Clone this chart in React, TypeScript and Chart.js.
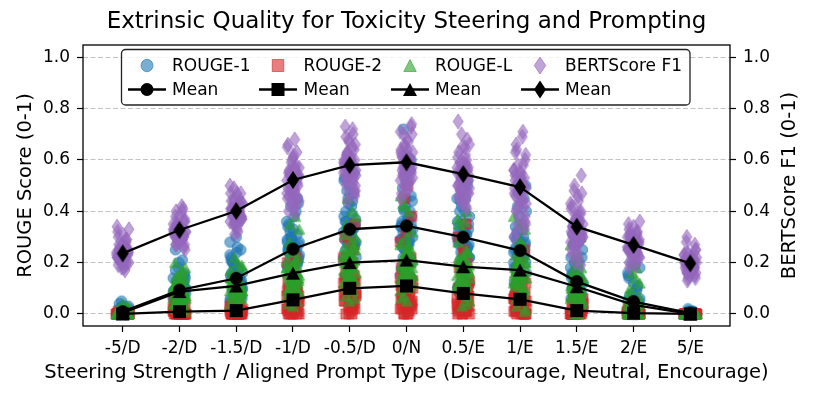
import React, { useEffect, useRef } from "react";
import { Chart, registerables } from "chart.js";
Chart.register(...registerables);

const CATEGORIES = ["-5/D", "-2/D", "-1.5/D", "-1/D", "-0.5/D", "0/N", "0.5/E", "1/E", "1.5/E", "2/E", "5/E"];
const Y_TICKS = [0, 0.2, 0.4, 0.6, 0.8, 1.0];
const TITLE = "Extrinsic Quality for Toxicity Steering and Prompting";
const X_LABEL = "Steering Strength / Aligned Prompt Type (Discourage, Neutral, Encourage)";
const Y_LABEL_LEFT = "ROUGE Score (0-1)";
const Y_LABEL_RIGHT = "BERTScore F1 (0-1)";

const ROUGE1 = [
  [0, 0, 0, 0, 0, 0.01, 0, 0.02, 0, 0.03, 0, 0.01, 0.04, 0, 0.05, 0, 0, 0.01, 0, 0, 0.02, 0, 0.03, 0, 0.01, 0, 0, 0.02, 0, 0.01, 0, 0, 0, 0, 0.01, 0, 0, 0.02, 0, 0, 0.01, 0, 0.03, 0, 0, 0.01, 0, 0.02],
  [0.02, 0.05, 0.08, 0.1, 0.12, 0.06, 0.15, 0.04, 0.09, 0.18, 0.11, 0.07, 0.08, 0.03, 0.1, 0.25, 0.04, 0.07, 0.09, 0.11, 0.13, 0.16, 0.2, 0.06, 0.08, 0.1, 0.12, 0.05, 0.14, 0.09, 0.02, 0.03, 0.03, 0.06, 0.08, 0.1, 0.12, 0.14, 0.17, 0.21, 0.07, 0.09, 0.11, 0.05, 0.13, 0.08, 0.04, 0.06],
  [0.05, 0.1, 0.14, 0.18, 0.08, 0.12, 0.22, 0.26, 0.15, 0.09, 0.2, 0.13, 0.3, 0.06, 0.11, 0.04, 0.07, 0.1, 0.12, 0.14, 0.16, 0.19, 0.24, 0.28, 0.13, 0.15, 0.17, 0.09, 0.11, 0.21, 0.08, 0.08, 0.06, 0.09, 0.11, 0.13, 0.15, 0.17, 0.2, 0.25, 0.12, 0.14, 0.16, 0.1, 0.18, 0.07, 0.23, 0.12],
  [0.1, 0.18, 0.25, 0.3, 0.22, 0.35, 0.4, 0.15, 0.28, 0.2, 0.32, 0.45, 0.26, 0.12, 0.24, 0.23, 0.06, 0.14, 0.19, 0.21, 0.24, 0.27, 0.29, 0.31, 0.34, 0.38, 0.42, 0.27, 0.25, 0.22, 0.18, 0.29, 0.08, 0.16, 0.2, 0.23, 0.25, 0.26, 0.28, 0.3, 0.33, 0.36, 0.43, 0.21, 0.24, 0.27, 0.19, 0.25],
  [0.15, 0.25, 0.3, 0.38, 0.42, 0.48, 0.55, 0.2, 0.33, 0.36, 0.28, 0.45, 0.32, 0.22, 0.27, 0.32, 0.12, 0.2, 0.26, 0.29, 0.31, 0.34, 0.37, 0.4, 0.44, 0.5, 0.52, 0.35, 0.3, 0.27, 0.33, 0.29, 0.14, 0.22, 0.27, 0.3, 0.32, 0.34, 0.36, 0.39, 0.43, 0.47, 0.53, 0.31, 0.28, 0.35, 0.25, 0.33],
  [0.72, 0.6, 0.45, 0.4, 0.35, 0.3, 0.25, 0.2, 0.15, 0.38, 0.32, 0.28, 0.42, 0.22, 0.18, 0.27, 0.12, 0.2, 0.26, 0.29, 0.31, 0.34, 0.37, 0.41, 0.46, 0.52, 0.56, 0.36, 0.33, 0.3, 0.35, 0.29, 0.14, 0.22, 0.27, 0.3, 0.32, 0.34, 0.37, 0.4, 0.44, 0.49, 0.58, 0.33, 0.29, 0.36, 0.26, 0.35],
  [0.12, 0.2, 0.25, 0.3, 0.35, 0.4, 0.45, 0.55, 0.5, 0.28, 0.32, 0.18, 0.22, 0.27, 0.24, 0.17, 0.1, 0.16, 0.21, 0.26, 0.29, 0.31, 0.34, 0.38, 0.42, 0.48, 0.45, 0.33, 0.3, 0.27, 0.36, 0.26, 0.11, 0.19, 0.24, 0.27, 0.29, 0.31, 0.33, 0.36, 0.4, 0.44, 0.52, 0.28, 0.25, 0.32, 0.22, 0.3],
  [0.08, 0.15, 0.2, 0.25, 0.3, 0.35, 0.42, 0.5, 0.18, 0.22, 0.28, 0.12, 0.26, 0.32, 0.23, 0.09, 0.06, 0.11, 0.16, 0.19, 0.21, 0.24, 0.27, 0.29, 0.33, 0.38, 0.45, 0.25, 0.22, 0.3, 0.2, 0.26, 0.07, 0.13, 0.18, 0.21, 0.23, 0.25, 0.27, 0.3, 0.34, 0.4, 0.47, 0.24, 0.2, 0.28, 0.16, 0.22],
  [0, 0.03, 0.06, 0.1, 0.14, 0.18, 0.22, 0.28, 0.35, 0.08, 0.12, 0.05, 0.16, 0.02, 0.11, 0.12, 0.01, 0.04, 0.07, 0.09, 0.11, 0.13, 0.15, 0.17, 0.2, 0.25, 0.31, 0.1, 0.14, 0.06, 0.12, 0.08, 0.02, 0.05, 0.08, 0.1, 0.12, 0.13, 0.15, 0.18, 0.22, 0.27, 0.2, 0.11, 0.09, 0.14, 0.06, 0.13],
  [0, 0, 0, 0.02, 0.04, 0.06, 0.1, 0.14, 0.18, 0.2, 0, 0.01, 0.03, 0, 0, 0, 0, 0.01, 0.02, 0.03, 0.05, 0.07, 0.09, 0.12, 0.16, 0, 0.01, 0, 0.04, 0.02, 0, 0.06, 0, 0, 0.01, 0.02, 0.04, 0.05, 0.08, 0.11, 0.15, 0.19, 0, 0.01, 0.03, 0, 0.02, 0.05],
  [0, 0, 0, 0, 0.01, 0, 0, 0, 0, 0.01, 0, 0, 0, 0, 0.02, 0, 0, 0, 0.01, 0, 0, 0, 0, 0, 0.01, 0, 0, 0, 0, 0, 0, 0, 0, 0, 0, 0, 0, 0.01, 0, 0, 0, 0, 0, 0.01, 0, 0, 0, 0],
];

const ROUGE2 = [
  [0, 0, 0, 0, 0, 0, 0, 0, 0, 0, 0, 0, 0, 0, 0, 0, 0, 0, 0, 0, 0, 0, 0.01, 0, 0, 0, 0, 0, 0, 0, 0, 0, 0, 0, 0, 0, 0, 0, 0, 0, 0, 0, 0, 0, 0, 0, 0, 0],
  [0, 0, 0, 0, 0.01, 0, 0.02, 0, 0.03, 0, 0, 0.05, 0, 0.01, 0, 0.02, 0, 0.01, 0, 0.02, 0, 0.01, 0, 0.03, 0, 0, 0.01, 0, 0.02, 0, 0.04, 0, 0, 0, 0.01, 0, 0.02, 0, 0.01, 0, 0.03, 0, 0.01, 0, 0.02, 0, 0.03, 0],
  [0, 0, 0.01, 0, 0.02, 0, 0.03, 0.05, 0, 0.01, 0, 0.04, 0, 0.02, 0, 0.03, 0.01, 0, 0.02, 0, 0.03, 0.01, 0, 0.02, 0.04, 0, 0.01, 0, 0.02, 0.03, 0, 0.01, 0, 0.01, 0, 0.02, 0.01, 0.03, 0, 0.02, 0.01, 0.04, 0, 0.02, 0.01, 0, 0.03, 0.01],
  [0, 0.02, 0.04, 0.06, 0.08, 0.12, 0.22, 0.1, 0, 0.03, 0.05, 0.07, 0.01, 0, 0.04, 0.06, 0, 0.01, 0.03, 0.05, 0.07, 0.09, 0.11, 0.15, 0.2, 0.02, 0.04, 0.06, 0.08, 0.03, 0, 0.05, 0, 0.01, 0.02, 0.04, 0.05, 0.06, 0.08, 0.1, 0.13, 0.18, 0.03, 0.05, 0.07, 0.02, 0.04, 0.09],
  [0, 0.02, 0.05, 0.08, 0.12, 0.12, 0.22, 0.35, 0.2, 0.04, 0.1, 0.06, 0.14, 0.01, 0.09, 0.08, 0, 0.03, 0.06, 0.09, 0.11, 0.13, 0.15, 0.18, 0.25, 0.3, 0.07, 0.1, 0.04, 0.12, 0.02, 0.08, 0, 0.02, 0.04, 0.07, 0.09, 0.11, 0.13, 0.16, 0.2, 0.28, 0.05, 0.08, 0.1, 0.12, 0.03, 0.14],
  [0, 0.02, 0.04, 0.07, 0.1, 0.09, 0.12, 0.18, 0.5, 0.45, 0.05, 0.08, 0.01, 0.03, 0.06, 0, 0, 0.03, 0.06, 0.09, 0.11, 0.13, 0.16, 0.2, 0.28, 0.38, 0.07, 0.1, 0.04, 0.12, 0.02, 0.05, 0, 0.02, 0.04, 0.07, 0.09, 0.11, 0.13, 0.16, 0.22, 0.32, 0.05, 0.08, 0.1, 0.12, 0.03, 0.14],
  [0, 0.01, 0.03, 0.05, 0.08, 0.12, 0.18, 0.35, 0.25, 0.02, 0.06, 0.04, 0.1, 0, 0.03, 0.01, 0, 0.02, 0.04, 0.06, 0.07, 0.09, 0.11, 0.14, 0.2, 0.3, 0.05, 0.08, 0.03, 0.1, 0.01, 0.06, 0, 0.01, 0.03, 0.05, 0.06, 0.08, 0.1, 0.13, 0.17, 0.24, 0.04, 0.07, 0.09, 0.02, 0.05, 0.11],
  [0, 0.01, 0.02, 0.04, 0.06, 0.09, 0.14, 0.25, 0.2, 0, 0.03, 0.05, 0.02, 0, 0.01, 0, 0, 0.01, 0.03, 0.05, 0.07, 0.08, 0.1, 0.12, 0.1, 0.14, 0.04, 0.06, 0.02, 0.09, 0, 0.03, 0, 0.01, 0.02, 0.03, 0.05, 0.06, 0.08, 0.1, 0.13, 0.18, 0.04, 0.07, 0.02, 0.09, 0, 0.03],
  [0, 0, 0.01, 0, 0.02, 0.04, 0.06, 0, 0.01, 0, 0.03, 0, 0.02, 0, 0.01, 0, 0.01, 0, 0.02, 0, 0.03, 0.01, 0, 0.02, 0.05, 0, 0.01, 0, 0.02, 0.04, 0, 0.01, 0, 0.01, 0, 0.02, 0.01, 0.03, 0, 0.02, 0.01, 0.04, 0, 0.01, 0.02, 0, 0.03, 0],
  [0, 0, 0, 0, 0.01, 0, 0, 0, 0, 0, 0.02, 0, 0, 0, 0.01, 0, 0, 0, 0.01, 0, 0, 0, 0, 0.01, 0, 0, 0, 0, 0.02, 0, 0, 0, 0, 0, 0, 0.01, 0, 0, 0, 0, 0.01, 0, 0, 0, 0, 0.01, 0, 0],
  [0, 0, 0, 0, 0, 0, 0, 0, 0, 0, 0, 0, 0, 0, 0, 0, 0, 0, 0, 0, 0, 0, 0, 0, 0, 0, 0, 0, 0, 0, 0, 0, 0, 0, 0, 0, 0, 0, 0, 0, 0, 0, 0, 0, 0, 0, 0, 0],
];

const ROUGEL = [
  [0, 0, 0, 0.01, 0, 0.02, 0, 0, 0.04, 0, 0, 0.01, 0, 0, 0, 0, 0, 0.01, 0, 0, 0.02, 0, 0.03, 0, 0, 0.01, 0, 0, 0, 0.01, 0, 0, 0, 0, 0.01, 0, 0, 0, 0.02, 0, 0, 0.01, 0, 0.03, 0, 0, 0, 0.01],
  [0.01, 0.04, 0.06, 0.08, 0.1, 0.12, 0.05, 0.14, 0.09, 0.16, 0.2, 0.07, 0.03, 0.11, 0.06, 0.04, 0.02, 0.05, 0.07, 0.09, 0.11, 0.13, 0.15, 0.18, 0.08, 0.06, 0.1, 0.04, 0.12, 0.07, 0.09, 0.03, 0.02, 0.04, 0.06, 0.08, 0.09, 0.1, 0.12, 0.14, 0.17, 0.05, 0.07, 0.11, 0.03, 0.13, 0.08, 0.1],
  [0.03, 0.06, 0.08, 0.1, 0.12, 0.14, 0.18, 0.22, 0.05, 0.09, 0.11, 0.15, 0.07, 0.13, 0.1, 0.12, 0.04, 0.07, 0.09, 0.11, 0.13, 0.15, 0.17, 0.2, 0.1, 0.08, 0.12, 0.06, 0.14, 0.09, 0.11, 0.1, 0.04, 0.06, 0.08, 0.09, 0.1, 0.11, 0.12, 0.13, 0.15, 0.19, 0.07, 0.1, 0.12, 0.14, 0.11, 0.14],
  [0.04, 0.08, 0.12, 0.15, 0.18, 0.22, 0.28, 0.38, 0.1, 0.14, 0.16, 0.2, 0.06, 0.13, 0.17, 0.13, 0.03, 0.07, 0.1, 0.13, 0.16, 0.19, 0.21, 0.25, 0.33, 0.12, 0.15, 0.18, 0.09, 0.14, 0.17, 0.24, 0.05, 0.09, 0.11, 0.13, 0.14, 0.15, 0.16, 0.18, 0.21, 0.26, 0.35, 0.12, 0.17, 0.19, 0.1, 0.15],
  [0.06, 0.1, 0.14, 0.18, 0.22, 0.26, 0.28, 0.45, 0.3, 0.16, 0.2, 0.24, 0.12, 0.19, 0.17, 0.21, 0.05, 0.09, 0.13, 0.16, 0.19, 0.21, 0.23, 0.27, 0.35, 0.4, 0.15, 0.18, 0.2, 0.22, 0.14, 0.25, 0.07, 0.11, 0.15, 0.17, 0.19, 0.2, 0.21, 0.23, 0.26, 0.31, 0.38, 0.16, 0.18, 0.22, 0.13, 0.24],
  [0.06, 0.1, 0.14, 0.18, 0.22, 0.26, 0.3, 0.46, 0.4, 0.16, 0.2, 0.24, 0.12, 0.19, 0.15, 0.18, 0.05, 0.09, 0.13, 0.16, 0.19, 0.21, 0.24, 0.28, 0.35, 0.42, 0.15, 0.18, 0.2, 0.23, 0.14, 0.27, 0.07, 0.11, 0.15, 0.17, 0.19, 0.21, 0.22, 0.24, 0.27, 0.32, 0.43, 0.16, 0.18, 0.23, 0.13, 0.25],
  [0.04, 0.08, 0.12, 0.16, 0.2, 0.24, 0.3, 0.4, 0.35, 0.14, 0.18, 0.22, 0.1, 0.17, 0.13, 0.11, 0.03, 0.07, 0.11, 0.14, 0.17, 0.19, 0.21, 0.25, 0.32, 0.37, 0.13, 0.16, 0.18, 0.2, 0.12, 0.22, 0.05, 0.09, 0.13, 0.15, 0.17, 0.18, 0.19, 0.21, 0.24, 0.28, 0.36, 0.14, 0.16, 0.2, 0.11, 0.22],
  [0.01, 0.05, 0.09, 0.13, 0.17, 0.21, 0.27, 0.38, 0.33, 0.12, 0.16, 0.2, 0.08, 0.18, 0.15, 0.21, 0.02, 0.06, 0.1, 0.13, 0.15, 0.17, 0.19, 0.23, 0.29, 0.36, 0.11, 0.14, 0.16, 0.18, 0.12, 0.2, 0.03, 0.07, 0.11, 0.14, 0.16, 0.17, 0.18, 0.2, 0.23, 0.27, 0.35, 0.13, 0.15, 0.19, 0.1, 0.21],
  [0, 0.03, 0.06, 0.09, 0.12, 0.15, 0.2, 0.3, 0.16, 0.08, 0.11, 0.04, 0.13, 0.07, 0.1, 0.07, 0, 0.02, 0.05, 0.08, 0.1, 0.12, 0.14, 0.17, 0.22, 0.27, 0.06, 0.09, 0.11, 0.13, 0.04, 0.1, 0.01, 0.03, 0.05, 0.07, 0.09, 0.1, 0.11, 0.12, 0.14, 0.18, 0.24, 0.08, 0.1, 0.13, 0.06, 0.15],
  [0, 0, 0, 0.01, 0.03, 0.05, 0.04, 0.06, 0.18, 0.2, 0, 0, 0.02, 0, 0.01, 0, 0, 0, 0.01, 0.02, 0.04, 0.07, 0.1, 0.14, 0, 0.01, 0.03, 0, 0.05, 0, 0.02, 0, 0, 0, 0, 0.01, 0.02, 0.03, 0.05, 0.08, 0.12, 0.16, 0, 0.01, 0.04, 0, 0.02, 0.01],
  [0, 0, 0, 0, 0, 0, 0, 0, 0, 0, 0, 0, 0, 0, 0, 0, 0, 0, 0, 0, 0, 0, 0, 0, 0, 0, 0, 0, 0, 0, 0, 0, 0, 0, 0, 0, 0, 0, 0, 0, 0, 0, 0, 0, 0, 0, 0, 0],
];

const BERT = [
  [0.19, 0.21, 0.22, 0.23, 0.24, 0.25, 0.26, 0.28, 0.3, 0.33, 0.2, 0.22, 0.24, 0.23, 0.21, 0.17, 0.18, 0.2, 0.22, 0.23, 0.24, 0.25, 0.27, 0.29, 0.31, 0.34, 0.21, 0.22, 0.24, 0.2, 0.26, 0.19, 0.2, 0.21, 0.22, 0.23, 0.24, 0.25, 0.26, 0.27, 0.29, 0.32, 0.18, 0.22, 0.24, 0.25, 0.21, 0.23],
  [0.26, 0.28, 0.3, 0.31, 0.32, 0.33, 0.34, 0.35, 0.37, 0.4, 0.42, 0.29, 0.31, 0.33, 0.34, 0.28, 0.25, 0.27, 0.29, 0.3, 0.32, 0.33, 0.35, 0.36, 0.38, 0.41, 0.3, 0.32, 0.34, 0.31, 0.33, 0.27, 0.27, 0.29, 0.3, 0.31, 0.32, 0.33, 0.34, 0.36, 0.38, 0.4, 0.28, 0.31, 0.33, 0.35, 0.3, 0.32],
  [0.31, 0.34, 0.36, 0.38, 0.39, 0.4, 0.41, 0.42, 0.44, 0.46, 0.49, 0.37, 0.4, 0.43, 0.35, 0.47, 0.32, 0.35, 0.37, 0.39, 0.4, 0.41, 0.43, 0.45, 0.47, 0.5, 0.38, 0.4, 0.42, 0.36, 0.44, 0.39, 0.33, 0.35, 0.37, 0.38, 0.39, 0.4, 0.41, 0.42, 0.44, 0.47, 0.36, 0.39, 0.41, 0.43, 0.38, 0.42],
  [0.39, 0.43, 0.46, 0.49, 0.51, 0.52, 0.54, 0.56, 0.58, 0.61, 0.65, 0.68, 0.48, 0.53, 0.5, 0.45, 0.4, 0.44, 0.47, 0.5, 0.52, 0.53, 0.55, 0.57, 0.6, 0.63, 0.66, 0.49, 0.51, 0.54, 0.46, 0.42, 0.41, 0.45, 0.48, 0.5, 0.51, 0.52, 0.53, 0.55, 0.57, 0.59, 0.62, 0.47, 0.5, 0.54, 0.56, 0.44],
  [0.44, 0.48, 0.52, 0.55, 0.57, 0.58, 0.6, 0.62, 0.64, 0.67, 0.7, 0.73, 0.54, 0.59, 0.56, 0.55, 0.46, 0.5, 0.53, 0.56, 0.58, 0.59, 0.61, 0.63, 0.66, 0.69, 0.72, 0.57, 0.6, 0.55, 0.52, 0.48, 0.47, 0.51, 0.54, 0.56, 0.57, 0.58, 0.59, 0.6, 0.62, 0.65, 0.68, 0.53, 0.56, 0.6, 0.63, 0.5],
  [0.45, 0.49, 0.53, 0.56, 0.58, 0.59, 0.61, 0.63, 0.65, 0.68, 0.71, 0.74, 0.55, 0.6, 0.57, 0.52, 0.47, 0.51, 0.54, 0.57, 0.59, 0.6, 0.62, 0.64, 0.67, 0.7, 0.73, 0.58, 0.61, 0.56, 0.53, 0.5, 0.48, 0.52, 0.55, 0.57, 0.58, 0.59, 0.6, 0.62, 0.64, 0.66, 0.7, 0.54, 0.57, 0.61, 0.63, 0.51],
  [0.41, 0.45, 0.49, 0.52, 0.54, 0.55, 0.57, 0.59, 0.62, 0.65, 0.68, 0.75, 0.5, 0.53, 0.47, 0.51, 0.42, 0.46, 0.5, 0.53, 0.55, 0.56, 0.58, 0.6, 0.63, 0.66, 0.7, 0.54, 0.57, 0.52, 0.48, 0.44, 0.43, 0.47, 0.5, 0.52, 0.53, 0.54, 0.55, 0.57, 0.59, 0.61, 0.65, 0.49, 0.52, 0.56, 0.58, 0.46],
  [0.3, 0.36, 0.41, 0.45, 0.48, 0.5, 0.52, 0.55, 0.58, 0.62, 0.66, 0.71, 0.44, 0.47, 0.53, 0.32, 0.33, 0.38, 0.42, 0.46, 0.49, 0.51, 0.53, 0.56, 0.6, 0.64, 0.69, 0.47, 0.5, 0.54, 0.44, 0.35, 0.35, 0.4, 0.44, 0.47, 0.49, 0.5, 0.51, 0.53, 0.55, 0.58, 0.63, 0.43, 0.48, 0.52, 0.56, 0.38],
  [0.19, 0.23, 0.27, 0.3, 0.32, 0.34, 0.36, 0.38, 0.41, 0.44, 0.48, 0.54, 0.29, 0.33, 0.31, 0.3, 0.2, 0.24, 0.28, 0.31, 0.33, 0.35, 0.37, 0.39, 0.42, 0.46, 0.5, 0.3, 0.34, 0.36, 0.27, 0.32, 0.22, 0.26, 0.29, 0.31, 0.33, 0.34, 0.35, 0.37, 0.39, 0.43, 0.47, 0.28, 0.32, 0.36, 0.4, 0.25],
  [0.18, 0.21, 0.23, 0.25, 0.26, 0.27, 0.28, 0.29, 0.31, 0.33, 0.36, 0.24, 0.27, 0.3, 0.22, 0.3, 0.19, 0.22, 0.24, 0.26, 0.27, 0.28, 0.29, 0.3, 0.32, 0.34, 0.25, 0.27, 0.29, 0.23, 0.26, 0.28, 0.2, 0.22, 0.24, 0.25, 0.26, 0.27, 0.28, 0.29, 0.3, 0.32, 0.35, 0.23, 0.26, 0.28, 0.31, 0.25],
  [0.13, 0.15, 0.17, 0.18, 0.19, 0.2, 0.21, 0.22, 0.23, 0.25, 0.3, 0.16, 0.19, 0.21, 0.18, 0.18, 0.14, 0.16, 0.17, 0.19, 0.2, 0.21, 0.22, 0.24, 0.27, 0.15, 0.18, 0.2, 0.22, 0.19, 0.17, 0.23, 0.14, 0.16, 0.18, 0.19, 0.2, 0.21, 0.22, 0.23, 0.25, 0.28, 0.17, 0.19, 0.2, 0.21, 0.16, 0.18],
];

const MEAN_R1 = [0.009, 0.093, 0.139, 0.253, 0.33, 0.343, 0.299, 0.247, 0.126, 0.048, 0.003];
const MEAN_R2 = [0.0, 0.009, 0.013, 0.055, 0.1, 0.109, 0.08, 0.057, 0.013, 0.003, 0.0];
const MEAN_RL = [0.005, 0.087, 0.109, 0.159, 0.2, 0.21, 0.184, 0.171, 0.106, 0.035, 0.0];
const MEAN_BERT = [0.236, 0.327, 0.401, 0.522, 0.58, 0.591, 0.545, 0.494, 0.34, 0.269, 0.197];

// horizontal strip jitter (layout constant, in category units)
const JITTER = [-0.1, 0.03, -0.05, 0.08, -0.01, 0.06, -0.08, 0.11, -0.03, 0.01, -0.11, 0.09, -0.06, 0.04, -0.02, 0.07, -0.09, 0.02, -0.04, 0.1, -0.07, 0.05, 0.0];

const FONT = "'DejaVu Sans', 'Liberation Sans', sans-serif";
const C_BLUE = "rgba(31,119,180,0.6)";
const C_RED = "rgba(214,39,40,0.6)";
const C_GREEN = "rgba(44,160,44,0.6)";
const C_PURPLE = "rgba(148,103,189,0.6)";

type Shape = "circle" | "square" | "triangle" | "diamond";

function shapePath(ctx: CanvasRenderingContext2D, shape: Shape, cx: number, cy: number, w: number, h: number) {
  ctx.beginPath();
  if (shape === "circle") {
    ctx.ellipse(cx, cy, w / 2, h / 2, 0, 0, Math.PI * 2);
  } else if (shape === "square") {
    ctx.rect(cx - w / 2, cy - h / 2, w, h);
  } else if (shape === "triangle") {
    ctx.moveTo(cx, cy - h / 2);
    ctx.lineTo(cx + w / 2, cy + h / 2);
    ctx.lineTo(cx - w / 2, cy + h / 2);
    ctx.closePath();
  } else {
    ctx.moveTo(cx, cy - h / 2);
    ctx.lineTo(cx + w / 2, cy);
    ctx.lineTo(cx, cy + h / 2);
    ctx.lineTo(cx - w / 2, cy);
    ctx.closePath();
  }
}

function drawMarker(ctx: CanvasRenderingContext2D, shape: Shape, cx: number, cy: number, w: number, h: number, fill: string, lw: number) {
  shapePath(ctx, shape, cx, cy, w, h);
  ctx.fillStyle = fill;
  ctx.fill();
  if (lw > 0) {
    ctx.lineWidth = lw;
    ctx.strokeStyle = fill;
    ctx.stroke();
  }
}

function markerCanvas(shape: Shape, w: number, h: number, fill: string, lw: number) {
  const pad = 2;
  const c = document.createElement("canvas");
  c.width = Math.ceil(w + 2 * pad);
  c.height = Math.ceil(h + 2 * pad);
  const ctx = c.getContext("2d")!;
  drawMarker(ctx, shape, c.width / 2, c.height / 2, w, h, fill, lw);
  return c;
}

const SIZES: Record<Shape, [number, number]> = {
  circle: [10.5, 10.5],
  square: [10, 10],
  triangle: [11, 10],
  diamond: [10, 15],
};
const MEAN_SIZES: Record<Shape, [number, number]> = {
  circle: [13, 13],
  square: [13, 13],
  triangle: [14, 13],
  diamond: [12, 18],
};

export default function App() {
  const ref = useRef<HTMLCanvasElement | null>(null);
  useEffect(() => {
    if (!ref.current) return;
    const series: { label: string; data: number[][]; mean: number[]; color: string; shape: Shape }[] = [
      { label: "ROUGE-1", data: ROUGE1, mean: MEAN_R1, color: C_BLUE, shape: "circle" },
      { label: "ROUGE-2", data: ROUGE2, mean: MEAN_R2, color: C_RED, shape: "square" },
      { label: "ROUGE-L", data: ROUGEL, mean: MEAN_RL, color: C_GREEN, shape: "triangle" },
      { label: "BERTScore F1", data: BERT, mean: MEAN_BERT, color: C_PURPLE, shape: "diamond" },
    ];
    const datasets: any[] = [];
    series.forEach((s, si) => {
      const pts: { x: number; y: number }[] = [];
      s.data.forEach((vals, ci) => {
        vals.forEach((v, j) => {
          pts.push({ x: ci + JITTER[(j + si * 7 + ci * 5) % JITTER.length], y: v });
        });
      });
      const [w, h] = SIZES[s.shape];
      datasets.push({
        type: "scatter",
        label: s.label,
        data: pts,
        pointStyle: markerCanvas(s.shape, w, h, s.color, 1),
        pointRadius: 5,
        showLine: false,
        order: 10 - si,
        yAxisID: si === 3 ? "y2" : "y",
      });
    });
    series.forEach((s, si) => {
      const [w, h] = MEAN_SIZES[s.shape];
      datasets.push({
        type: "scatter",
        label: "Mean",
        data: s.mean.map((m, ci) => ({ x: ci, y: m })),
        showLine: true,
        borderColor: "#000",
        borderWidth: 2.3,
        pointStyle: markerCanvas(s.shape, w, h, "#000", 0),
        pointRadius: 6,
        order: 0,
        yAxisID: si === 3 ? "y2" : "y",
      });
    });

    const overlay = {
      id: "overlay",
      afterDraw(chart: any) {
        const ctx: CanvasRenderingContext2D = chart.ctx;
        const a = chart.chartArea;
        ctx.save();
        // frame
        ctx.strokeStyle = "#000";
        ctx.lineWidth = 1.3;
        ctx.strokeRect(a.left, a.top, a.right - a.left, a.bottom - a.top);
        // legend
        const lx = 121.5, ly = 49.5, lw = 568.5, lh = 55.5;
        ctx.beginPath();
        (ctx as any).roundRect(lx, ly, lw, lh, 4);
        ctx.fillStyle = "rgba(255,255,255,0.8)";
        ctx.fill();
        ctx.strokeStyle = "#222";
        ctx.lineWidth = 1.3;
        ctx.stroke();
        const textX = [172, 303.5, 435, 565];
        const handleX = [147, 278, 410, 540];
        const row1 = 65.5, row2 = 89.5;
        ctx.font = `17px ${FONT}`;
        ctx.textBaseline = "middle";
        ctx.textAlign = "left";
        series.forEach((s, i) => {
          const [w, h] = SIZES[s.shape];
          drawMarker(ctx, s.shape, handleX[i], row1, w + 1.5, h + 2, s.color, 1);
          ctx.fillStyle = "#000";
          ctx.fillText(s.label, textX[i], row1 + 1);
          ctx.beginPath();
          ctx.moveTo(handleX[i] - 19, row2);
          ctx.lineTo(handleX[i] + 19, row2);
          ctx.strokeStyle = "#000";
          ctx.lineWidth = 2.3;
          ctx.stroke();
          const [mw, mh] = MEAN_SIZES[s.shape];
          drawMarker(ctx, s.shape, handleX[i], row2, mw, mh, "#000", 0);
          ctx.fillStyle = "#000";
          ctx.fillText("Mean", textX[i], row2 + 1);
        });
        // title
        ctx.fillStyle = "#000";
        ctx.textAlign = "center";
        ctx.font = `23px ${FONT}`;
        ctx.fillText(TITLE, (a.left + a.right) / 2, 22);
        // axis labels
        ctx.font = `19.5px ${FONT}`;
        ctx.fillText(X_LABEL, (a.left + a.right) / 2, 373);
        const cy = (a.top + a.bottom) / 2;
        ctx.save();
        ctx.translate(26, cy);
        ctx.rotate(-Math.PI / 2);
        ctx.fillText(Y_LABEL_LEFT, 0, 0);
        ctx.restore();
        ctx.save();
        ctx.translate(790, cy);
        ctx.rotate(-Math.PI / 2);
        ctx.fillText(Y_LABEL_RIGHT, 0, 0);
        ctx.restore();
        ctx.restore();
      },
    };

    const tickFont = { family: FONT, size: 17 };
    const yTicks = (scale: any) => {
      scale.ticks = Y_TICKS.map((v) => ({ value: v }));
    };
    const chart = new Chart(ref.current, {
      type: "scatter",
      data: { datasets },
      options: {
        animation: false,
        responsive: true,
        maintainAspectRatio: false,
        layout: { padding: { top: 45, left: 0, right: 0, bottom: 0 } },
        plugins: { legend: { display: false }, tooltip: { enabled: false }, title: { display: false } },
        scales: {
          x: {
            type: "linear",
            min: -0.7,
            max: 10.7,
            afterBuildTicks: (scale: any) => {
              scale.ticks = CATEGORIES.map((_, i) => ({ value: i }));
            },
            afterFit: (scale: any) => {
              scale.height = 71;
            },
            ticks: {
              callback: (_v: any, i: number) => CATEGORIES[i],
              font: tickFont,
              color: "#000",
              padding: 6,
              maxRotation: 0,
              autoSkip: false,
            },
            grid: { drawOnChartArea: false, drawTicks: true, tickLength: 6, tickColor: "#000", tickWidth: 1.2 },
            border: { display: false },
          },
          y: {
            type: "linear",
            position: "left",
            min: -0.047,
            max: 1.048,
            afterBuildTicks: yTicks,
            afterFit: (scale: any) => {
              scale.width = 83;
            },
            ticks: { callback: (v: any) => Number(v).toFixed(1), font: tickFont, color: "#000", padding: 7 },
            grid: { color: "#c4c4c4", lineWidth: 1, drawTicks: true, tickLength: 6, tickColor: "#000", tickWidth: 1.2 },
            border: { display: false, dash: [5, 2.5] },
          },
          y2: {
            type: "linear",
            position: "right",
            min: -0.047,
            max: 1.048,
            afterBuildTicks: yTicks,
            afterFit: (scale: any) => {
              scale.width = 84;
            },
            ticks: { callback: (v: any) => Number(v).toFixed(1), font: tickFont, color: "#000", padding: 7 },
            grid: { drawOnChartArea: false, drawTicks: true, tickLength: 6, tickColor: "#000", tickWidth: 1.2 },
            border: { display: false },
          },
        },
      },
      plugins: [overlay],
    });
    return () => chart.destroy();
  }, []);
  return (
    <div style={{ position: "fixed", left: 0, top: 0, width: 814, height: 397, background: "#fff" }}>
      <canvas ref={ref} />
    </div>
  );
}
